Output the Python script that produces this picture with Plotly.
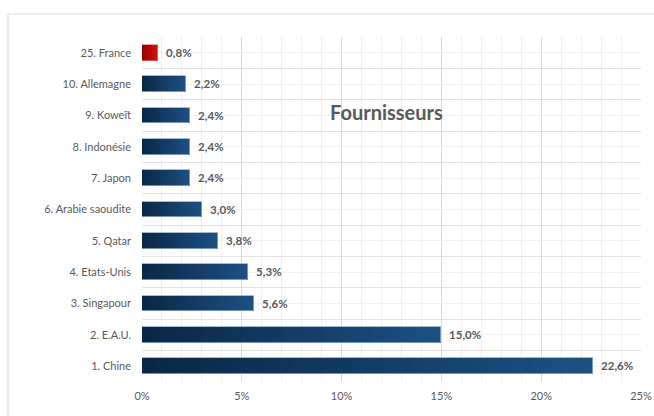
import plotly.graph_objects as go

categories = ["1. Chine", "2. E.A.U.", "3. Singapour", "4. Etats-Unis", "5. Qatar",
              "6. Arabie saoudite", "7. Japon", "8. Indonésie", "9. Koweït",
              "10. Allemagne", "25. France"]
values = [22.6, 15.0, 5.6, 5.3, 3.8, 3.0, 2.4, 2.4, 2.4, 2.2, 0.8]
x_tick_vals = [0, 5, 10, 15, 20, 25]
x_tick_text = ["0%", "5%", "10%", "15%", "20%", "25%"]
title_text = "Fournisseurs"

positions = list(range(len(categories)))
labels = ["  " + f"{v:.1f}%".replace(".", ",") for v in values]

# gradient endpoints (left -> right)
blue_left, blue_right = (10, 38, 68), (28, 80, 130)
red_left, red_right = (150, 0, 0), (215, 15, 15)
is_france = [c.endswith("France") for c in categories]

def mix(a, b, t):
    return "rgb(%d,%d,%d)" % tuple(round(a[i] + (b[i] - a[i]) * t) for i in range(3))

fig = go.Figure()
N = 30
for k in range(N):
    f = 1 - k / N
    cols = [mix(red_left, red_right, f) if fr else mix(blue_left, blue_right, f) for fr in is_france]
    fig.add_trace(go.Bar(
        x=[v * f for v in values], y=positions, orientation="h", width=0.5,
        marker=dict(color=cols, line=dict(width=0)), hoverinfo="skip", showlegend=False,
    ))

fig.add_trace(go.Bar(
    x=values, y=positions, orientation="h", width=0.5,
    marker=dict(color="rgba(0,0,0,0)",
                line=dict(width=1, color=["rgba(230,120,120,0.7)" if fr else "rgba(140,170,200,0.8)" for fr in is_france])),
    text=labels, textposition="outside", cliponaxis=False,
    textfont=dict(family="Lato", size=11.5, color="#595959", weight="bold"),
    showlegend=False,
))

fig.add_annotation(x=9.3, y=8.1, xref="x", yref="y", text="<b>" + title_text + "</b>",
                   showarrow=False, xanchor="left", yanchor="middle",
                   font=dict(family="Lato", size=20, color="#595959"))

W, H = 654, 416
L, T, PW, PH = 142, 37, 499, 345
fig.add_shape(type="rect", xref="paper", yref="paper",
              x0=(8 - L) / PW, x1=1.2, y0=-0.3, y1=(T + PH - 14) / PH,
              line=dict(color="#d9d9d9", width=1), fillcolor="rgba(0,0,0,0)", layer="below")

fig.update_layout(
    width=W, height=H,
    margin=dict(l=L, r=W - L - PW, t=T, b=H - T - PH, autoexpand=False),
    paper_bgcolor="white", plot_bgcolor="white",
    barmode="overlay", bargap=0,
    font=dict(family="Lato", size=11, color="#595959"),
    xaxis=dict(range=[0, 25], tickvals=x_tick_vals, ticktext=x_tick_text,
               showgrid=True, gridcolor="#d9d9d9", gridwidth=1,
               minor=dict(dtick=1, tick0=0, showgrid=True, gridcolor="#f0f0f0"),
               zeroline=False, showline=False, ticks="", ticklabelstandoff=6,
               tickfont=dict(size=11, color="#595959"), fixedrange=True, automargin=False),
    yaxis=dict(range=[-0.5, 10.5], tickvals=positions, ticktext=categories,
               showgrid=True, gridcolor="#f0f0f0",
               minor=dict(tickvals=[p + 0.5 for p in [-1] + positions], showgrid=True, gridcolor="#e3e3e3"),
               zeroline=False, showline=False, ticks="", ticklabelstandoff=10,
               tickfont=dict(size=11, color="#595959"), fixedrange=True, automargin=False),
)

fig.write_html("out.html",
               config={"displayModeBar": False},
               post_script="document.body.style.margin='0';document.body.style.overflow='hidden';")
